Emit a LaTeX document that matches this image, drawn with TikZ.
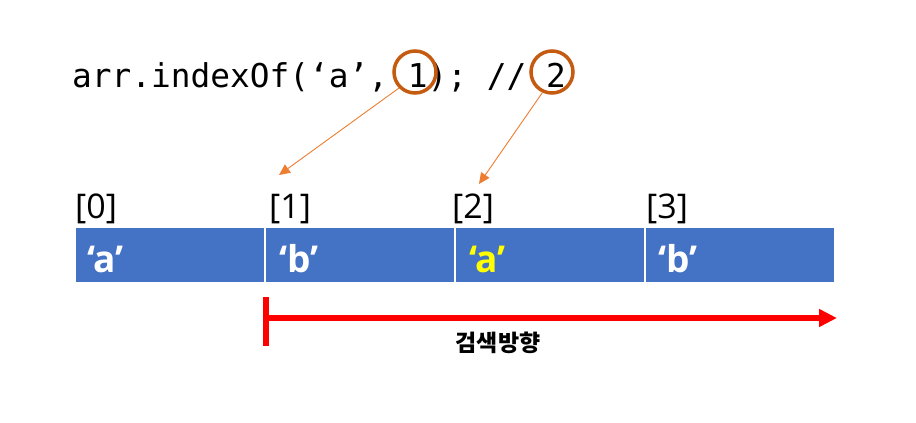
\documentclass[tikz,border=0pt]{standalone}
\usepackage{fontspec}
\setmainfont{Open Sans}
\newfontfamily\codefont{DejaVu Sans Mono}
\newfontfamily\krfont{Noto Sans CJK KR}
\usetikzlibrary{arrows.meta}
\definecolor{cellblue}{HTML}{4472C4}
\definecolor{hlyellow}{HTML}{FFFF00}
\definecolor{circorange}{HTML}{C55A11}
\definecolor{arrorange}{HTML}{ED7D31}
\definecolor{dirred}{HTML}{FF0000}
\tikzset{
  cell/.style={fill=cellblue, draw=none, minimum width=188pt, minimum height=54pt, inner sep=0pt},
  celltext/.style={anchor=base west, inner sep=0pt, text=white, font=\fontsize{37}{42}\selectfont\bfseries},
  idx/.style={anchor=base west, inner sep=0pt, font=\fontsize{34}{40}\selectfont},
  ring/.style={circle, draw=circorange, line width=3.5pt, minimum size=42pt, inner sep=0pt},
  oarrow/.style={draw=arrorange, line width=0.9pt, -{Triangle[length=11pt,width=10pt]}},
}
\begin{document}
\begin{tikzpicture}[x=1pt,y=-1pt]
\useasboundingbox (0,0) rectangle (916,423);
% code line
\node[anchor=base west, inner sep=0pt, font=\codefont\fontsize{32.8}{38}\selectfont] (code) at (72,87) {arr.indexOf(‘a’, 1); // 2};
\node[ring] (o1) at (415,72) {};
\node[ring] (o2) at (552,72) {};
% array cells
\node[cell] (c0) at (170,255) {};
\node[cell] (c1) at (360,255) {};
\node[cell] (c2) at (550,255) {};
\node[cell] (c3) at (740,255) {};
\node[celltext] (t0) at (87,272) {‘a’};
\node[celltext] (t1) at (279,272) {‘b’};
\node[celltext, text=hlyellow] (t2) at (469,272) {‘a’};
\node[celltext] (t3) at (658,272) {‘b’};
% indices
\node[idx] (i0) at (75,218) {[0]};
\node[idx] (i1) at (269,218) {[1]};
\node[idx] (i2) at (452,218) {[2]};
\node[idx] (i3) at (646,218) {[3]};
% pointer arrows
\coordinate (p1) at (279,175);
\coordinate (p2) at (479,184);
\draw[oarrow] (o1.225) -- (p1);
\draw[oarrow] (o2.245) -- (p2);
% search direction
\coordinate (rs) at (266,318);
\coordinate (re) at (837,318);
\coordinate (bt) at (266,297);
\coordinate (bb) at (266,346);
\draw[dirred, line width=6pt, -{Triangle[length=18pt,width=17pt]}] (rs) -- (re);
\draw[dirred, line width=6pt] (bt) -- (bb);
\node[inner sep=0pt, font=\krfont\fontsize{23}{27}\selectfont\bfseries] (lbl) at (498,343) {검색방향};
\end{tikzpicture}
\end{document}
